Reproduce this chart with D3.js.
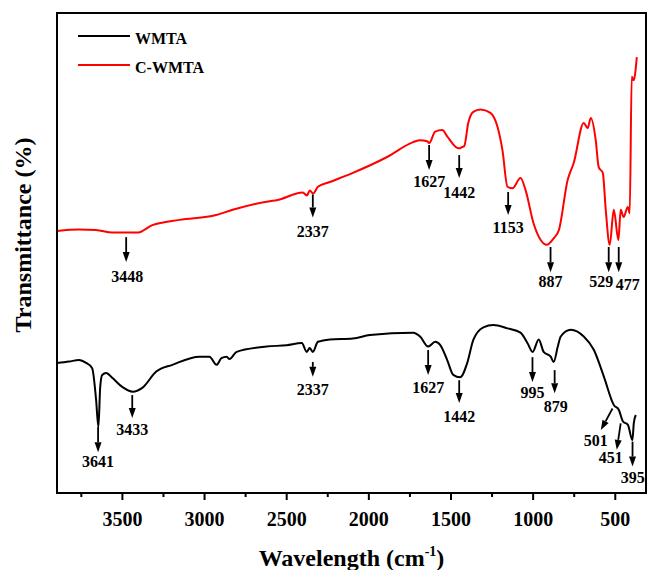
<!DOCTYPE html>
<html>
<head>
<meta charset="utf-8">
<script src="https://cdn.jsdelivr.net/npm/d3@7"></script>
<style>
body { margin: 0; background: #fff; }
text { font-family: "Liberation Serif", "Times New Roman", serif; font-weight: bold; fill: #000; }
</style>
</head>
<body>
<div id="root"></div>
<script>
// FTIR spectra, wavenumber (cm-1) vs transmittance (a.u., offset)
var wnBlack = [3895, 3821, 3761, 3718, 3681, 3657, 3643, 3632, 3620, 3596, 3559, 3498, 3434, 3376, 3291, 3193,
    3028, 2967, 2924, 2894, 2863, 2845, 2802, 2619, 2497, 2405, 2375, 2357, 2338, 2307, 2234, 2094, 1990,
    1727, 1685, 1636, 1593, 1562, 1520, 1483, 1441, 1398, 1361, 1300, 1239, 1153, 1074, 1031, 1000, 963,
    933, 890, 872, 847, 829, 768, 689, 627, 566, 505, 475, 450, 420, 393, 384, 372];
var tBlack = [27.1, 27.4, 27.7, 27.1, 26.0, 19.4, 13.75, 22.1, 24.6, 25.0, 24.0, 22.1, 21.1, 21.9, 25.3, 26.7,
    28.4, 28.4, 26.7, 28.1, 28.4, 27.9, 29.4, 30.5, 30.8, 31.25, 29.4, 30.2, 29.4, 31.5, 32.0, 32.2, 32.9,
    33.4, 32.6, 30.5, 31.5, 30.8, 27.7, 24.6, 24.1, 27.1, 31.9, 34.5, 35.0, 34.3, 33.4, 31.2, 29.4, 32.0,
    29.4, 28.4, 27.3, 30.5, 32.6, 34.0, 32.6, 29.8, 24.2, 18.3, 17.3, 14.9, 14.2, 11.0, 14.6, 16.25];

var wnRed = [3895, 3761, 3657, 3559, 3407, 3315, 3150, 2927, 2826, 2600, 2558, 2399, 2374, 2356, 2336, 2307,
    2234, 2094, 1886, 1727, 1685, 1642, 1630, 1593, 1550, 1520, 1459, 1446, 1434, 1416, 1392, 1361, 1318,
    1257, 1214, 1184, 1153, 1123, 1074, 1043, 995, 951, 914, 871, 840, 787, 750, 689, 665, 646, 616, 598,
    573, 555, 531, 506, 478, 464, 446, 421, 409, 397, 385, 379, 366];
var tRed = [54.6, 54.9, 54.8, 54.25, 54.25, 55.8, 56.9, 57.9, 59.0, 60.8, 61.0, 62.6, 62.0, 63.0, 62.4, 63.8,
    64.8, 66.7, 70.0, 73.1, 73.5, 73.3, 72.9, 75.3, 75.6, 74.3, 71.9, 71.8, 72.0, 72.3, 77.1, 79.4, 79.9,
    79.2, 76.3, 71.5, 63.8, 63.5, 65.6, 63.1, 56.25, 52.7, 51.7, 53.1, 54.8, 65.2, 68.75, 77.1, 76.0, 78.1, 73.5, 67.9,
    66.7, 59.0, 51.7, 59.0, 52.7, 59.0, 57.5, 59.6, 58.3, 86.7, 86.0, 86.7, 90.8];

var seriesNames = ["WMTA", "C-WMTA"];
var xTicks = [3500, 3000, 2500, 2000, 1500, 1000, 500];
var xMinorTicks = [3750, 3250, 2750, 2250, 1750, 1250, 750];

// peak labels: [label, wn from, t from, wn to, t to, label wn, label t]
var redNotes = [
    ["3448", 3474, 53.3, 3474, 48.1, 3467, 44.0],
    ["2337", 2338, 62.2, 2338, 57.4, 2338, 53.3],
    ["1627", 1630, 72.5, 1630, 67.3, 1630, 63.75],
    ["1442", 1447, 70.4, 1447, 65.6, 1447, 61.5],
    ["1153", 1149, 62.7, 1149, 57.9, 1149, 54.2],
    ["887", 891, 51.25, 891, 46.0, 891, 42.9],
    ["529", 537, 51.25, 537, 46.0, 582, 42.9],
    ["477", 476, 51.25, 476, 46.0, 421, 42.3]
];
var blackNotes = [
    ["3641", 3645, 13.75, 3645, 8.5, 3645, 5.4],
    ["3433", 3437, 20.4, 3437, 15.6, 3437, 12.1],
    ["2337", 2338, 27.3, 2338, 24.2, 2338, 20.4],
    ["1627", 1636, 29.8, 1636, 24.6, 1636, 20.8],
    ["1442", 1447, 23.5, 1447, 18.75, 1447, 14.8],
    ["995", 1001, 28.3, 1001, 23.1, 1001, 19.8],
    ["879", 866, 25.6, 866, 20.8, 860, 16.9],
    ["501", 514, 17.6, 585, 13.1, 616, 9.8],
    ["451", 464, 14.5, 488, 9.0, 524, 6.25],
    ["395", 392, 10.7, 392, 5.5, 390, 2.1]
];

var W = 649, H = 570;
var margin = {top: 13, right: 3, bottom: 77, left: 57};

var svg = d3.select("#root")
    .append("svg")
    .attr("width", W)
    .attr("height", H);

var x = d3.scaleLinear().domain([3895, 310]).range([margin.left, W - margin.right]);
var y = d3.scaleLinear().domain([0, 100]).range([H - margin.bottom, margin.top]);

function draw() {
    var line = d3.line()
        .x(function (d) { return x(d[0]); })
        .y(function (d) { return y(d[1]); })
        .curve(d3.curveMonotoneX);

    var black = d3.zip(wnBlack, tBlack);
    var red = d3.zip(wnRed, tRed);

    svg.append("path").datum(black)
        .attr("d", line).attr("fill", "none")
        .attr("stroke", "#000").attr("stroke-width", 2).attr("stroke-linejoin", "round");
    svg.append("path").datum(red)
        .attr("d", line).attr("fill", "none")
        .attr("stroke", "#ff0000").attr("stroke-width", 2).attr("stroke-linejoin", "round");

    // x axis, major and minor ticks in separate groups
    var gx = svg.append("g").attr("transform", "translate(0," + (H - margin.bottom) + ")");
    gx.call(d3.axisBottom(x).tickValues(xTicks).tickSize(7).tickPadding(12).tickFormat(d3.format("d")));
    var gm = svg.append("g").attr("transform", "translate(0," + (H - margin.bottom) + ")");
    gm.call(d3.axisBottom(x).tickValues(xMinorTicks).tickSize(4).tickFormat(""));
    svg.selectAll(".domain").remove();
    svg.selectAll(".tick line").attr("stroke-width", 2);
    gx.selectAll(".tick text").attr("font-size", 20)
        .attr("font-family", "Liberation Serif, serif").attr("font-weight", "bold");

    // frame
    svg.append("rect")
        .attr("x", margin.left).attr("y", margin.top)
        .attr("width", W - margin.left - margin.right)
        .attr("height", H - margin.top - margin.bottom)
        .attr("fill", "none").attr("stroke", "#000").attr("stroke-width", 2);

    // annotations
    function notes(list) {
        list.forEach(function (n) {
            var x1 = x(n[1]), y1 = y(n[2]), x2 = x(n[3]), y2 = y(n[4]);
            var a = Math.atan2(y2 - y1, x2 - x1);
            var hl = 10, hw = 3.5;
            var bx = x2 - hl * Math.cos(a), by = y2 - hl * Math.sin(a);
            svg.append("line")
                .attr("x1", x1).attr("y1", y1).attr("x2", bx).attr("y2", by)
                .attr("stroke", "#000").attr("stroke-width", 1.8);
            svg.append("path")
                .attr("d", "M" + x2 + "," + y2 +
                    "L" + (bx + hw * Math.sin(a)) + "," + (by - hw * Math.cos(a)) +
                    "L" + (bx - hw * Math.sin(a)) + "," + (by + hw * Math.cos(a)) + "Z")
                .attr("fill", "#000");
            svg.append("text")
                .attr("x", x(n[5])).attr("y", y(n[6]))
                .attr("text-anchor", "middle").attr("font-size", 16)
                .text(n[0]);
        });
    }
    notes(redNotes);
    notes(blackNotes);

    // legend
    var colors = ["#000", "#ff0000"];
    var lg = svg.selectAll(".legend").data(seriesNames).enter().append("g")
        .attr("class", "legend")
        .attr("transform", function (d, i) { return "translate(78," + (36 + i * 29) + ")"; });
    lg.append("line").attr("x1", 0).attr("x2", 52).attr("y1", 0).attr("y2", 0)
        .attr("stroke", function (d, i) { return colors[i]; }).attr("stroke-width", 2);
    lg.append("text").attr("x", 57).attr("y", 8).attr("font-size", 16).text(function (d) { return d; });

    // axis titles
    svg.append("text")
        .attr("transform", "translate(31,235) rotate(-90)")
        .attr("text-anchor", "middle").attr("font-size", 24)
        .text("Transmittance (%)");

    var xt = svg.append("text")
        .attr("x", (margin.left + W - margin.right) / 2).attr("y", 566)
        .attr("text-anchor", "middle").attr("font-size", 24);
    xt.append("tspan").text("Wavelength (cm");
    xt.append("tspan").attr("font-size", 14).attr("dy", -10).text("-1");
    xt.append("tspan").attr("dy", 10).text(")");
}

draw();
</script>
</body>
</html>
